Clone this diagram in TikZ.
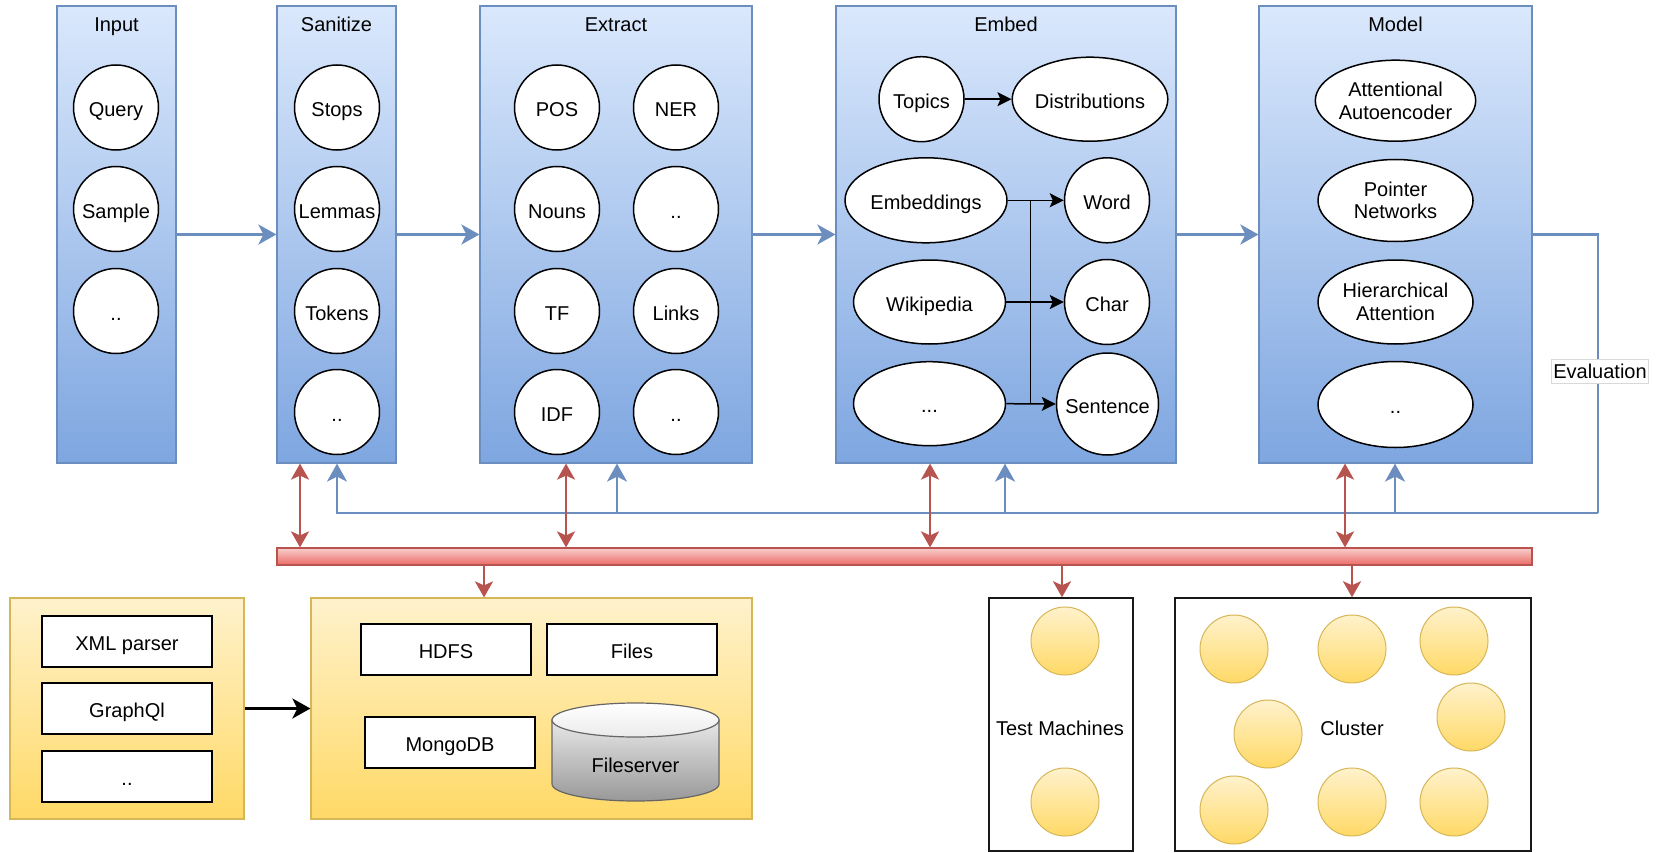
\documentclass[tikz,border=0pt]{standalone}
\usepackage{fontspec}
\setmainfont{Liberation Sans}
\usetikzlibrary{arrows.meta,shapes.geometric}
\definecolor{bluetop}{HTML}{DAE8FC}
\definecolor{bluebot}{HTML}{7EA6E0}
\definecolor{blueline}{HTML}{6C8EBF}
\definecolor{redline}{HTML}{B85450}
\definecolor{redtop}{HTML}{F8CECC}
\definecolor{redbot}{HTML}{EA6B66}
\definecolor{yeltop}{HTML}{FFF2CC}
\definecolor{yelbot}{HTML}{FFD966}
\definecolor{yelline}{HTML}{D6B656}
\definecolor{cyltop}{HTML}{F5F5F5}
\definecolor{cylbot}{HTML}{B3B3B3}
\definecolor{cylline}{HTML}{666666}
\definecolor{evgray}{HTML}{D9D9D9}
\tikzset{
  every node/.style={font=\fontsize{20}{21.5}\selectfont, inner sep=0pt, align=center, text height=18.3pt, text depth=0pt},
  twoline/.style={text height={}, text depth={}, font=\fontsize{20}{22.5}\selectfont},
  stagebox/.style={draw=blueline, line width=1.2pt, top color=bluetop, bottom color=bluebot, minimum height=457pt},
  circ/.style={circle, draw=black, line width=1.5pt, fill=white, minimum size=85pt},
  ell/.style={ellipse, draw=black, line width=1.5pt, fill=white, minimum height=84pt},
  yelbox/.style={draw=yelline, line width=1.2pt, top color=yeltop, bottom color=yelbot},
  rectbox/.style={draw=black, line width=1.5pt, fill=white, minimum width=170pt, minimum height=51pt},
  machine/.style={ellipse, draw=yelline, line width=1pt, top color=yeltop, bottom color=yelbot, minimum width=68pt, minimum height=68pt},
  hostbox/.style={draw=black!90, line width=1.5pt, fill=white, minimum height=253pt},
  bluearr/.style={draw=blueline, line width=2.5pt, -{Stealth[length=18pt,width=20pt,inset=5pt]}},
  blueln/.style={draw=blueline, line width=2.5pt},
  redarr/.style={draw=redline, line width=2.5pt, -{Stealth[length=16pt,width=18pt,inset=4pt]}},
  redarrtwo/.style={draw=redline, line width=2.5pt, {Stealth[length=16pt,width=18pt,inset=4pt]}-{Stealth[length=16pt,width=18pt,inset=4pt]}},
  blkarr/.style={draw=black, line width=1.5pt, -{Stealth[length=14pt,width=14pt,inset=3pt]}},
  blkln/.style={draw=black, line width=1.5pt},
  bigarr/.style={draw=black, line width=3pt, -{Stealth[length=18pt,width=20pt,inset=5pt]}},
}
\begin{document}
\begin{tikzpicture}[x=1pt,y=-1pt]
\useasboundingbox (0,0) rectangle (1661,853);

% stage boxes
\node[stagebox, minimum width=119pt] (inp) at (116.5,234.5) {};
\node[stagebox, minimum width=119pt] (san) at (336.5,234.5) {};
\node[stagebox, minimum width=272pt] (ext) at (616,234.5) {};
\node[stagebox, minimum width=340pt] (emb) at (1006,234.5) {};
\node[stagebox, minimum width=273pt] (mod) at (1395.5,234.5) {};

\node (tinp) at (116.5,22.5) {Input};
\node (tsan) at (336.5,22.5) {Sanitize};
\node (text) at (616,22.5) {Extract};
\node (temb) at (1006,22.5) {Embed};
\node (tmod) at (1395.5,22.5) {Model};

% Input
\node[circ] (query) at (116,107.5) {Query};
\node[circ] (sample) at (116,209) {Sample};
\node[circ] (idots) at (116,311) {..};
% Sanitize
\node[circ] (stops) at (337,107.5) {Stops};
\node[circ] (lemmas) at (337,209) {Lemmas};
\node[circ] (tokens) at (337,311) {Tokens};
\node[circ] (sdots) at (337,412) {..};
% Extract
\node[circ] (pos) at (557,107.5) {POS};
\node[circ] (ner) at (676,107.5) {NER};
\node[circ] (nouns) at (557,209) {Nouns};
\node[circ] (xdots) at (676,209) {..};
\node[circ] (tf) at (557,311) {TF};
\node[circ] (links) at (676,311) {Links};
\node[circ] (idf) at (557,412) {IDF};
\node[circ] (xdotsb) at (676,412) {..};
% Embed
\node[circ, minimum size=85pt] (topics) at (921.5,99.2) {Topics};
\node[ell, minimum width=152pt] (distr) at (1090,99.2) {Distributions};
\node[ell, minimum width=162pt, minimum height=85pt] (embs) at (926,200.3) {Embeddings};
\node[ell, minimum width=152pt] (wiki) at (929.5,302) {Wikipedia};
\node[ell, minimum width=152pt] (edots) at (929.5,403.7) {...};
\node[circ, minimum size=85pt] (word) at (1107,200.3) {Word};
\node[circ, minimum size=85pt] (char) at (1107,302) {Char};
\node[circ, minimum size=102pt] (sent) at (1107.5,404) {Sentence};
\coordinate (vx) at (1030.7,0);
\draw[blkarr] (topics.east) -- (distr.west);
\draw[blkarr] (embs.east) -- (word.west);
\draw[blkarr] (wiki.east) -- (char.west);
\draw[blkarr] (edots.east) -- (sent.west);
\draw[blkln] (embs.east -| vx) -- (edots.east -| vx);
% Model
\node[ell, twoline, minimum width=155pt, minimum height=81pt] (autoenc) at (1395.5,100.7) {Attentional\\Autoencoder};
\node[ell, twoline, minimum width=155pt, minimum height=82pt] (pointer) at (1395.5,200.5) {Pointer\\Networks};
\node[ell, twoline, minimum width=155pt] (hier) at (1395.5,302) {Hierarchical\\Attention};
\node[ell, minimum width=155pt, minimum height=86pt] (mdots) at (1395.5,404.5) {..};

% flow arrows
\draw[bluearr] (inp.east) -- (san.west);
\draw[bluearr] (san.east) -- (ext.west);
\draw[bluearr] (ext.east) -- (emb.west);
\draw[bluearr] (emb.east) -- (mod.west);

% bus
\node[draw=redline, line width=1.2pt, top color=redtop, bottom color=redbot, minimum width=1255pt, minimum height=17pt, text height={}, text depth={}] (bus) at (904.5,556.5) {};

% evaluation loop
\coordinate (ev) at (1598,513);
\coordinate (b1) at (337,0);
\coordinate (b2) at (617,0);
\coordinate (b3) at (1005,0);
\coordinate (b4) at (1395,0);
\draw[blueln] (mod.east) -| (ev);
\draw[bluearr] (ev) -| (san.south -| b1);
\draw[bluearr] (b2 |- ev) -- (ext.south -| b2);
\draw[bluearr] (b3 |- ev) -- (emb.south -| b3);
\draw[bluearr] (b4 |- ev) -- (mod.south -| b4);
\node[fill=white, draw=evgray, line width=0.6pt, inner xsep=2pt, inner ysep=2pt, text height=17pt, text depth=3pt] (evl) at (1600,371) {Evaluation};

% red double arrows
\coordinate (r1) at (300,0);
\coordinate (r2) at (566,0);
\coordinate (r3) at (930,0);
\coordinate (r4) at (1345,0);
\draw[redarrtwo] (san.south -| r1) -- (bus.north -| r1);
\draw[redarrtwo] (ext.south -| r2) -- (bus.north -| r2);
\draw[redarrtwo] (emb.south -| r3) -- (bus.north -| r3);
\draw[redarrtwo] (mod.south -| r4) -- (bus.north -| r4);

% bottom: sources and storage
\node[yelbox, minimum width=234pt, minimum height=221pt] (src) at (127,708.5) {};
\node[rectbox] (xml) at (127,641.5) {XML parser};
\node[rectbox] (gql) at (127,708.5) {GraphQl};
\node[rectbox] (sdot) at (127,776.5) {..};

\node[yelbox, minimum width=441pt, minimum height=221pt] (stor) at (531.5,708.5) {};
\node[rectbox] (hdfs) at (446,649.5) {HDFS};
\node[rectbox] (files) at (632,649.5) {Files};
\node[rectbox] (mongo) at (450,742.5) {MongoDB};
% cylinder
\path[draw=cylline, line width=1.2pt, top color=cyltop!80!cylbot, bottom color=cylbot!85!black] (552,720) -- (552,784) arc[start angle=180, end angle=0, x radius=83.5, y radius=17] -- (719,720) -- cycle;
\path[draw=cylline, line width=1.2pt, top color=white, bottom color=cyltop!85!cylbot] (635.5,720) ellipse [x radius=83.5, y radius=17];
\node (fsrv) at (635.5,763.5) {Fileserver};

\draw[bigarr] (src.east) -- (stor.west);

% machines
\node[hostbox, minimum width=144pt, text height={}, text depth={}] (test) at (1061,724.5) {};
\node[hostbox, minimum width=356pt, text height={}, text depth={}] (clus) at (1353,724.5) {};
\node (ttest) at (1060,726) {Test Machines};
\node (tclus) at (1352,726) {Cluster};
\node[machine, text height={}, text depth={}] (tm1) at (1065,641) {};
\node[machine, text height={}, text depth={}] (tm2) at (1065,802) {};
\node[machine, text height={}, text depth={}] (c1) at (1234,649) {};
\node[machine, text height={}, text depth={}] (c2) at (1352,649) {};
\node[machine, text height={}, text depth={}] (c3) at (1454,641) {};
\node[machine, text height={}, text depth={}] (c4) at (1268,734) {};
\node[machine, text height={}, text depth={}] (c5) at (1471,717) {};
\node[machine, text height={}, text depth={}] (c6) at (1234,810) {};
\node[machine, text height={}, text depth={}] (c7) at (1352,802) {};
\node[machine, text height={}, text depth={}] (c8) at (1454,802) {};

% red down arrows
\coordinate (d1) at (484,0);
\coordinate (d2) at (1062,0);
\coordinate (d3) at (1352,0);
\draw[redarr] (bus.south -| d1) -- (stor.north -| d1);
\draw[redarr] (bus.south -| d2) -- (test.north -| d2);
\draw[redarr] (bus.south -| d3) -- (clus.north -| d3);
\end{tikzpicture}
\end{document}
